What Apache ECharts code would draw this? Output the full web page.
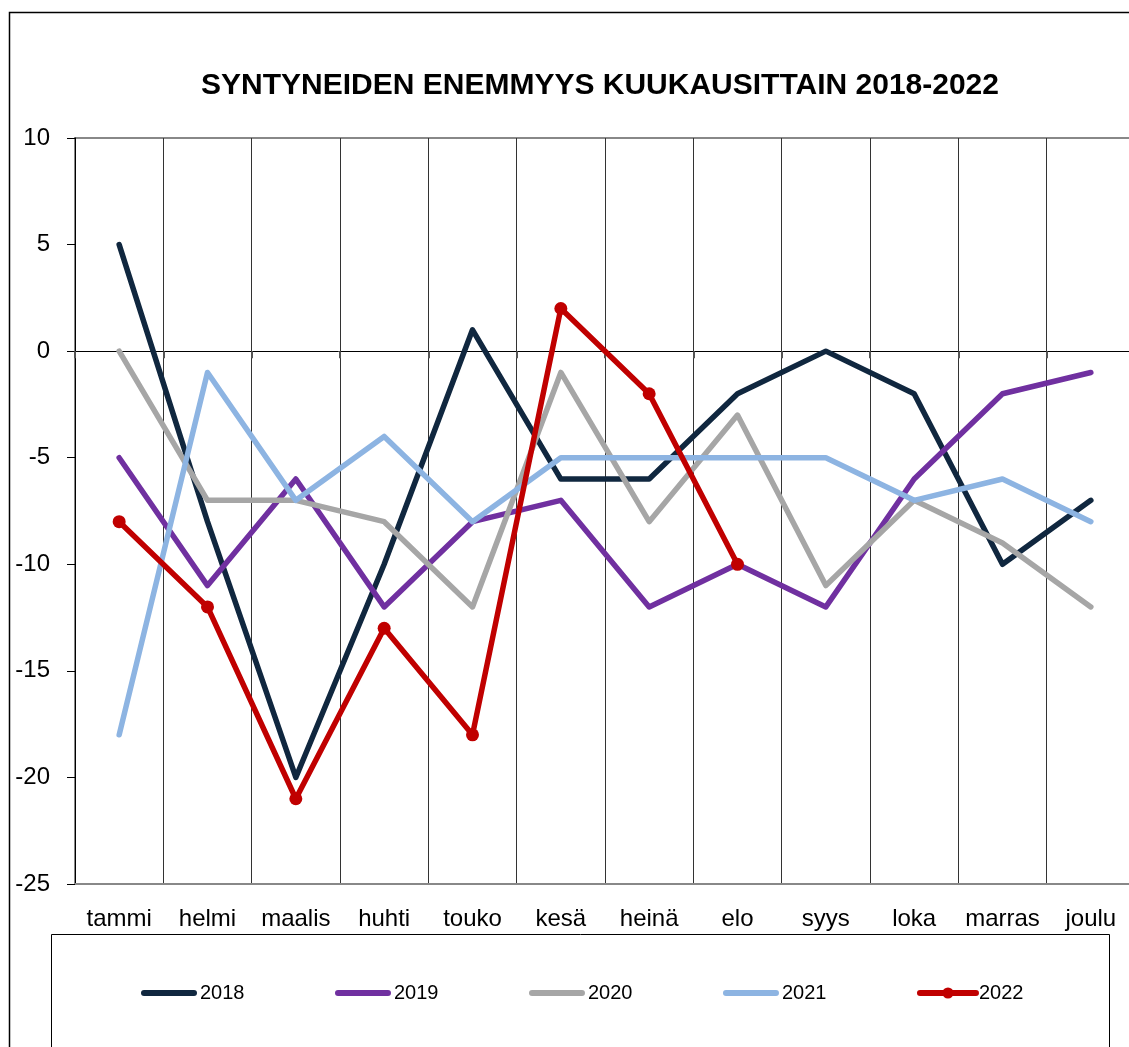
<!DOCTYPE html>
<html>
<head>
<meta charset="utf-8">
<script src="https://cdn.jsdelivr.net/npm/echarts@6/dist/echarts.min.js"></script>
<style>
html,body{margin:0;padding:0;background:#fff;}
#chart{width:1129px;height:1047px;}
</style>
</head>
<body>
<div id="chart"></div>
<script>
const titleText = 'SYNTYNEIDEN ENEMMYYS KUUKAUSITTAIN 2018-2022';
const months = ['tammi','helmi','maalis','huhti','touko','kesä','heinä','elo','syys','loka','marras','joulu'];
const seriesNames = ['2018','2019','2020','2021','2022'];
const y2018 = [5, -8, -20, -10, 1, -6, -6, -2, 0, -2, -10, -7];
const y2019 = [-5, -11, -6, -12, -8, -7, -12, -10, -12, -6, -2, -1];
const y2020 = [0, -7, -7, -8, -12, -1, -8, -3, -11, -7, -9, -12];
const y2021 = [-18, -1, -7, -4, -8, -5, -5, -5, -5, -7, -6, -8];
const y2022 = [-8, -12, -21, -13, -18, 2, -2, -10, null, null, null, null];
const yTicks = {min: -25, max: 10, interval: 5};

const colors = ['#10273f', '#7030a0', '#a6a6a6', '#8db4e2', '#c00000'];
const values = [y2018, y2019, y2020, y2021, y2022];
const FONT = '"Liberation Sans", Arial, sans-serif';
const barIcon = 'path://M3,0 L53,0 A3,3 0 0 1 53,6 L3,6 A3,3 0 0 1 3,0 Z';

const series = seriesNames.map((name, i) => {
  const isRed = i === 4;
  return {
    name: name,
    type: 'line',
    data: values[i],
    xAxisIndex: 0,
    yAxisIndex: 0,
    showSymbol: isRed,
    symbol: isRed ? 'circle' : 'none',
    symbolSize: 13,
    z: 10 + i,
    lineStyle: {color: colors[i], width: 5.5, cap: 'round', join: 'round'},
    itemStyle: {color: colors[i]},
    emphasis: {disabled: true},
    animation: false
  };
});

const legendData = seriesNames.map((name, i) => i === 4
  ? {name: name, lineStyle: {width: 6, cap: 'round', color: colors[i]}}
  : {name: name, icon: barIcon});

const chart = echarts.init(document.getElementById('chart'), null, {renderer: 'canvas'});
chart.setOption({
  animation: false,
  backgroundColor: '#fff',
  title: {
    text: titleText,
    left: 595, top: 66, textAlign: 'center',
    textStyle: {fontFamily: FONT, fontSize: 30, fontWeight: 'bold', color: '#000'}
  },
  graphic: [
    {type: 'rect', shape: {x: 9.5, y: 12.5, width: 1140, height: 1100}, style: {fill: 'none', stroke: '#000', lineWidth: 1.5}, z: 0, silent: true},
    {type: 'rect', shape: {x: 51.5, y: 934.5, width: 1058, height: 200}, style: {fill: 'none', stroke: '#000', lineWidth: 1}, z: 0, silent: true}
  ],
  legend: {
    data: legendData,
    left: 141, top: 983, padding: 0,
    itemWidth: 56, itemHeight: 14,
    itemGap: 90.5,
    symbolKeepAspect: true,
    textStyle: {fontFamily: FONT, fontSize: 20, color: '#000', padding: [0, 0, 0, -2]},
    selectedMode: false
  },
  grid: {left: 75, top: 138, width: 1060, bottom: 163, containLabel: false, outerBoundsMode: 'none',
         show: true, borderColor: '#888', borderWidth: 2, backgroundColor: 'transparent'},
  xAxis: [
    {
      type: 'category', data: months, position: 'bottom', boundaryGap: true,
      axisLine: {onZero: false, lineStyle: {color: '#888', width: 2}},
      axisTick: {show: false},
      axisLabel: {fontFamily: FONT, fontSize: 24, color: '#000', margin: 23, interval: 0},
      splitLine: {show: true, interval: 0, lineStyle: {color: '#333', width: 1}}
    },
    {
      type: 'category', data: months, position: 'top', boundaryGap: true,
      axisLine: {onZero: true, lineStyle: {color: '#000', width: 1}},
      axisTick: {show: true, inside: true, length: 7, interval: 0, lineStyle: {color: '#555', width: 2}},
      axisLabel: {show: false},
      splitLine: {show: false}
    }
  ],
  yAxis: {
    type: 'value', min: yTicks.min, max: yTicks.max, interval: yTicks.interval,
    axisLine: {show: true, lineStyle: {color: '#000', width: 1}},
    axisTick: {show: true, length: 8, lineStyle: {color: '#000'}},
    axisLabel: {fontFamily: FONT, fontSize: 24, color: '#000', margin: 25},
    splitLine: {show: false}
  },
  series: series
});
</script>
</body>
</html>
